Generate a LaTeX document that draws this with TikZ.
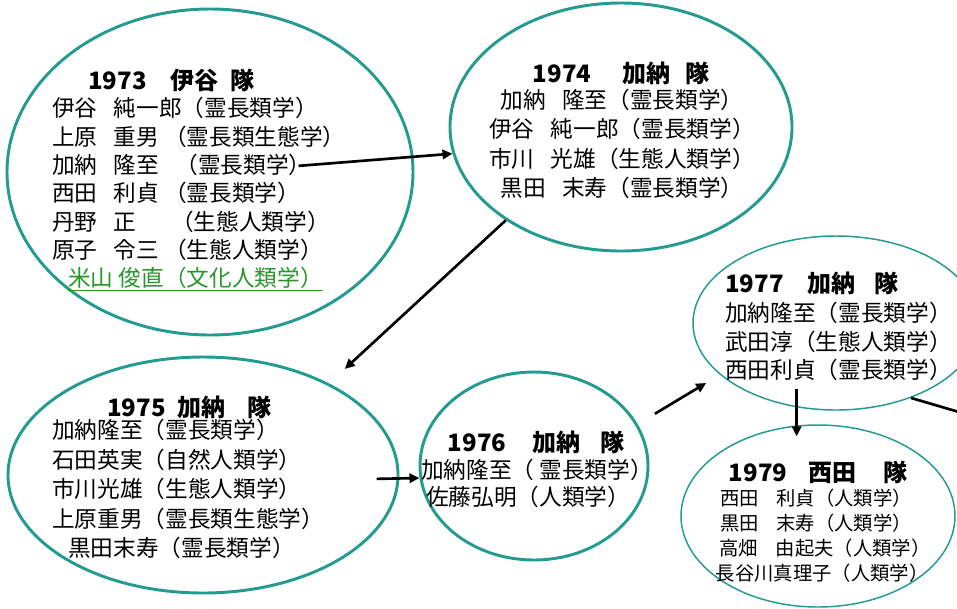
\documentclass[tikz,border=0pt]{standalone}
\usepackage{fontspec}
\setmainfont{Noto Sans CJK JP}
\usetikzlibrary{shapes.geometric,arrows.meta}
\definecolor{tealring}{RGB}{35,155,145}
\definecolor{grn}{RGB}{40,150,40}
\newcommand{\gp}{\hspace{0.72em}}
\newcommand{\gq}{\hspace{0.9em}}
\begin{document}
\begin{tikzpicture}[x=0.75pt,y=-0.75pt,
  ell/.style 2 args={ellipse, draw=tealring, minimum width=#1*1.5pt, minimum height=#2*1.5pt, inner sep=0pt},
  thickell/.style={line width=2.2pt},
  thinell/.style={line width=1.1pt},
  body/.style={inner sep=0pt, font=\fontsize{17pt}{20pt}\selectfont},
  small/.style={inner sep=0pt, font=\fontsize{14.5pt}{17pt}\selectfont},
  ttl/.style={inner sep=0pt, font=\fontsize{18pt}{21pt}\selectfont\bfseries},
  arr/.style={line width=2pt, -{Triangle[length=7.5pt,width=7pt]}},
  conn/.style={line width=2pt},
]
\fill[white] (0,0) rectangle (957,608);
\useasboundingbox (0,0) rectangle (957,608);

% ellipses
\node[ell={203}{163}, thickell] (e73) at (210,172) {};
\node[ell={171}{124}, thickell] (e74) at (621,127) {};
\node[ell={195}{118}, thickell] (e75) at (203,475) {};
\node[ell={114}{94}, thickell] (e76) at (534,466) {};
\node[ell={143}{87}, thinell] (e77) at (836,323) {};
\node[ell={137}{91}, thinell] (e79) at (818,516) {};

% 1973
\node[ttl, anchor=west] (t73) at (88,80) {1973\hspace{1em}伊谷\hspace{0.5em}隊};
\foreach \s [count=\i] in {伊谷\gp 純一郎（霊長類学）,上原\gp 重男 （霊長類生態学）,加納\gp 隆至\gp （霊長類学）,西田\gp 利貞 （霊長類学）,丹野\gp 正\hspace{1.3em} （生態人類学）,原子\gp 令三 （生態人類学）}
  \node[body, anchor=west] (l73-\i) at (52,{108+28.4*(\i-1)}) {\s};
\node[body, anchor=west, text=grn] (l73-7) at (68,279) {\underline{米山 俊直（文化人類学）}};

% 1974
\node[ttl] (t74) at (621,73) {1974\hspace{1.3em}加納\hspace{0.6em}隊};
\foreach \s [count=\i] in {加納\gp 隆至（霊長類学）,伊谷\gp 純一郎（霊長類学）,市川\gp 光雄（生態人類学）,黒田\gp 末寿（霊長類学）}
  \node[body] (l74-\i) at (622,{100+29.3*(\i-1)}) {\s};

% 1975
\node[ttl, anchor=west] (t75) at (107,407) {1975\hspace{0.5em}加納\hspace{0.9em}隊};
\foreach \s [count=\i] in {加納隆至（霊長類学）,石田英実（自然人類学）,市川光雄（生態人類学）,上原重男（霊長類生態学）}
  \node[body, anchor=west] (l75-\i) at (52,{430+29.5*(\i-1)}) {\s};
\node[body, anchor=west] (l75-5) at (68,548) {黒田末寿（霊長類学）};

% 1976
\node[ttl] (t76) at (536,442) {1976\hspace{1.1em}加納\hspace{0.8em}隊};
\node[body] (l76-1) at (537,470) {加納隆至（ 霊長類学）};
\node[body] (l76-2) at (528,497) {佐藤弘明（人類学）};

% 1977
\node[ttl, anchor=west] (t77) at (725,283) {1977\hspace{1em}加納\hspace{0.8em}隊};
\foreach \s [count=\i] in {加納隆至（霊長類学）,武田淳（生態人類学）,西田利貞（霊長類学）}
  \node[body, anchor=west] (l77-\i) at (725,{313+28.5*(\i-1)}) {\s};

% 1979
\node[ttl] (t79) at (818,472) {1979\hspace{0.9em}西田\hspace{1.1em}隊};
\node[small] (l79-1) at (816,498) {西田\gq 利貞（人類学）};
\node[small] (l79-2) at (816,523) {黒田\gq 末寿（人類学）};
\node[small] (l79-3) at (825,548) {高畑\gq 由起夫（人類学）};
\node[small] (l79-4) at (822,573) {長谷川真理子（人類学）};

% connectors
\coordinate (off77) at (1010,427);
\draw[arr, shorten <=-10pt] (l73-3.east) -- (e74.189);
\draw[arr, shorten >=16pt] (e74.219) -- (e75.36);
\draw[arr, shorten <=-17pt] (e75.-1) -- (e76.186);
\draw[arr, shorten <=15pt, shorten >=12pt] (e76.22) -- (e77.204);
\draw[arr, shorten <=-14pt, shorten >=-9pt] (e77.245.6) -- (e77.245.6 |- e79.north);
\draw[conn] (e77.-45) -- (off77);
\end{tikzpicture}
\end{document}
